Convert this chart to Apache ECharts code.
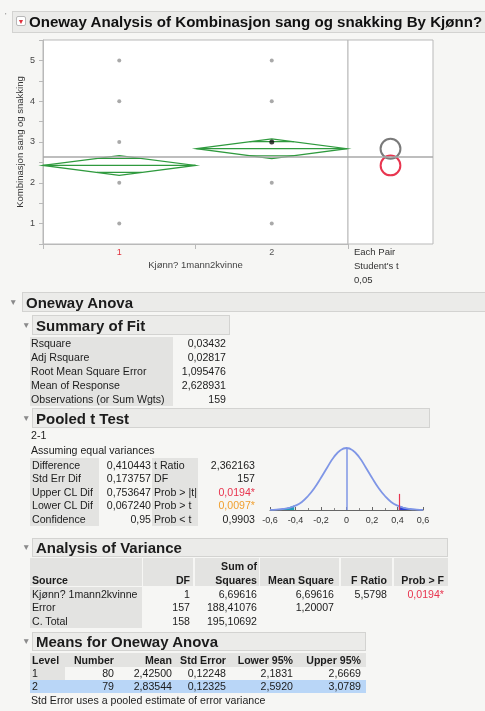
<!DOCTYPE html>
<html><head><meta charset="utf-8">
<script src="https://cdn.jsdelivr.net/npm/echarts@6/dist/echarts.min.js"></script>
<style>
html,body{margin:0;padding:0;background:#f6f6f4;}
#page{position:relative;width:485px;height:711px;overflow:hidden;font-family:'Liberation Sans',Arial,sans-serif;color:#1c1c1c;}
#chart{position:absolute;left:0;top:0;width:485px;height:711px;}
.t{position:absolute;white-space:nowrap;}
.bx{position:absolute;box-sizing:border-box;}
</style></head><body><div id="page"><div id="chart"></div></div>
<script>
// ---------- data ----------
const categories = ['1', '2'];
const grayPoints = [[1, 2, 3, 4, 5], [1, 2, 4, 5]];
const selectedPoints = [[], [3]];
const groupMeans = [2.42500, 2.83544];
const lower95 = [2.1831, 2.5920];
const upper95 = [2.6669, 3.0789];
const groupN = [80, 79];
const grandMean = 2.628931;

const curveX = [-0.6, -0.55, -0.5, -0.45, -0.4, -0.35, -0.3, -0.25, -0.2, -0.15, -0.1, -0.05, 0, 0.05, 0.1, 0.15, 0.2, 0.25, 0.3, 0.35, 0.4, 0.45, 0.5, 0.55, 0.6];
const curveY = [0.003, 0.007, 0.016, 0.035, 0.07, 0.13, 0.23, 0.36, 0.52, 0.69, 0.85, 0.96, 1.0, 0.96, 0.85, 0.69, 0.52, 0.36, 0.23, 0.13, 0.07, 0.035, 0.016, 0.007, 0.003];
const leftTailX = [-0.6, -0.55, -0.5, -0.45, -0.41];
const leftTailY = [0.005, 0.01, 0.022, 0.045, 0.075];
const rightTailX = [0.41, 0.45, 0.5, 0.55, 0.6];
const rightTailY = [0.075, 0.045, 0.022, 0.01, 0.005];
const difference = 0.410443;
const diffMarkHeight = 0.26;

const summaryLabels = ['Rsquare', 'Adj Rsquare', 'Root Mean Square Error', 'Mean of Response', 'Observations (or Sum Wgts)'];
const summaryValues = ['0,03432', '0,02817', '1,095476', '2,628931', '159'];

const tLabels1 = ['Difference', 'Std Err Dif', 'Upper CL Dif', 'Lower CL Dif', 'Confidence'];
const tValues1 = ['0,410443', '0,173757', '0,753647', '0,067240', '0,95'];
const tLabels2 = ['t Ratio', 'DF', 'Prob > |t|', 'Prob > t', 'Prob < t'];
const tValues2 = ['2,362163', '157', '0,0194*', '0,0097*', '0,9903'];

const anovaSource = ['Kjønn? 1mann2kvinne', 'Error', 'C. Total'];
const anovaDF = ['1', '157', '158'];
const anovaSS = ['6,69616', '188,41076', '195,10692'];
const anovaMS = ['6,69616', '1,20007', ''];
const anovaF = ['5,5798', '', ''];
const anovaP = ['0,0194*', '', ''];

const meansLevel = ['1', '2'];
const meansNumber = ['80', '79'];
const meansMean = ['2,42500', '2,83544'];
const meansSE = ['0,12248', '0,12325'];
const meansLower = ['2,1831', '2,5920'];
const meansUpper = ['2,6669', '3,0789'];

// ---------- HTML text / tables ----------
const page = document.getElementById('page');
const FS = 10.6;
function box(x, y, w, h, bg, border) {
  const d = document.createElement('div'); d.className = 'bx';
  d.style.left = x + 'px'; d.style.top = y + 'px'; d.style.width = w + 'px'; d.style.height = h + 'px';
  d.style.background = bg; if (border) d.style.border = '1px solid ' + border;
  page.appendChild(d); return d;
}
function txt(x, y, s, o) {
  o = o || {};
  const fs = o.fs || FS;
  const d = document.createElement('div'); d.className = 't'; d.textContent = s;
  d.style.fontSize = fs + 'px'; d.style.lineHeight = (fs + 2) + 'px';
  d.style.top = (y - (fs + 2) / 2) + 'px';
  if (o.align === 'right') d.style.right = (485 - x) + 'px';
  else d.style.left = x + 'px';
  if (o.bold) d.style.fontWeight = 'bold';
  if (o.color) d.style.color = o.color;
  page.appendChild(d); return d;
}
function tri(x, y) { txt(x, y, '▼', {fs: 8.5, color: '#8a8a8a'}); }
function bar(x, y, w, h) { box(x, y, w, h, '#ebebe9', '#d3d3d1'); }

// title
bar(12, 11, 480, 22);
const ic = box(16, 16, 10, 10, '#fff', '#b8b8b8'); ic.style.borderRadius = '2px';
txt(17.5, 21.5, '▼', {fs: 7, color: '#e0303c'});
txt(29, 22, 'Oneway Analysis of Kombinasjon sang og snakking By Kjønn?', {fs: 15.1, bold: true, color: '#111'});
txt(5, 16, "'", {fs: 8, color: '#777'});

// right panel axis label
txt(354, 252, 'Each Pair', {fs: 9.5, color: '#333'});
txt(354, 266, "Student's t", {fs: 9.5, color: '#333'});
txt(354, 280, '0,05', {fs: 9.5, color: '#333'});

// Oneway Anova
tri(9, 302); bar(22, 292, 470, 20);
txt(26, 302, 'Oneway Anova', {fs: 15, bold: true});

// Summary of Fit
tri(22, 325); bar(32, 315, 198, 20);
txt(36, 325, 'Summary of Fit', {fs: 15, bold: true});
box(30, 337, 143, 69, '#e3e3e1');
summaryLabels.forEach((s, i) => {
  const y = 343 + i * 14;
  txt(31, y, s);
  txt(226, y, summaryValues[i], {align: 'right'});
});

// Pooled t Test
tri(22, 418); bar(32, 408, 398, 20);
txt(36, 418, 'Pooled t Test', {fs: 15, bold: true});
txt(31, 435, '2-1');
txt(31, 450, 'Assuming equal variances');
box(30, 458, 69, 68, '#e3e3e1');
box(152, 458, 46, 68, '#e3e3e1');
const tColors = ['', '', '#e8354f', '#f0a030', ''];
tLabels1.forEach((s, i) => {
  const y = 465 + i * 13.5;
  txt(32, y, s);
  txt(151, y, tValues1[i], {align: 'right'});
  txt(154, y, tLabels2[i]);
  txt(255, y, tValues2[i], {align: 'right', color: tColors[i] || undefined});
});

// Analysis of Variance
tri(22, 547); bar(32, 538, 416, 19);
txt(36, 547, 'Analysis of Variance', {fs: 15, bold: true});
[[30, 112], [143, 50], [195, 64], [260, 79], [341, 51], [394, 54]].forEach(c => box(c[0], 558, c[1], 28, '#e3e3e1'));
box(30, 587, 112, 41, '#e3e3e1');
txt(32, 580, 'Source', {bold: true});
txt(190, 580, 'DF', {bold: true, align: 'right'});
txt(257, 566, 'Sum of', {bold: true, align: 'right'});
txt(257, 580, 'Squares', {bold: true, align: 'right'});
txt(334, 580, 'Mean Square', {bold: true, align: 'right'});
txt(387, 580, 'F Ratio', {bold: true, align: 'right'});
txt(444, 580, 'Prob > F', {bold: true, align: 'right'});
anovaSource.forEach((s, i) => {
  const y = 594 + i * 13.5;
  txt(32, y, s);
  txt(190, y, anovaDF[i], {align: 'right'});
  txt(257, y, anovaSS[i], {align: 'right'});
  txt(334, y, anovaMS[i], {align: 'right'});
  txt(387, y, anovaF[i], {align: 'right'});
  txt(444, y, anovaP[i], {align: 'right', color: '#e8354f'});
});

// Means for Oneway Anova
tri(22, 641); bar(32, 632, 334, 19);
txt(36, 641, 'Means for Oneway Anova', {fs: 15, bold: true});
box(30, 653, 336, 14, '#e3e3e1');
box(30, 667, 35, 13, '#e3e3e1');
box(30, 680, 336, 13, '#b9d6f7');
txt(32, 660, 'Level', {bold: true});
const mRight = [114, 172, 226, 293, 361];
const mHead = ['Number', 'Mean', 'Std Error', 'Lower 95%', 'Upper 95%'];
mHead.forEach((h, j) => txt(mRight[j], 660, h, {bold: true, align: 'right'}));
meansLevel.forEach((lv, i) => {
  const y = 673.5 + i * 13;
  txt(32, y, lv);
  [meansNumber, meansMean, meansSE, meansLower, meansUpper].forEach((arr, j) => txt(mRight[j], y, arr[i], {align: 'right'}));
});
txt(31, 700, 'Std Error uses a pooled estimate of error variance');

// ---------- chart ----------
const chart = echarts.init(document.getElementById('chart'), null, {renderer: 'canvas'});
const maxN = Math.max.apply(null, groupN);
const grayData = [], selData = [];
grayPoints.forEach((arr, i) => arr.forEach(v => grayData.push([i, v])));
selectedPoints.forEach((arr, i) => arr.forEach(v => selData.push([i, v])));
const diamondData = groupMeans.map((m, i) => [i, m, lower95[i], upper95[i], groupN[i]]);
const circleData = groupMeans.map((m, i) => [0.5, m, (upper95[i] - lower95[i]) / 2, i]);
const curveData = curveX.map((x, i) => [x, curveY[i]]);
const leftData = leftTailX.map((x, i) => [x, leftTailY[i]]);
const rightData = rightTailX.map((x, i) => [x, rightTailY[i]]);
const meanLine = {silent: true, symbol: 'none', label: {show: false}, lineStyle: {color: '#a9a9a9', width: 1.5, type: 'solid'}, data: [{yAxis: grandMean}]};

const option = {
  backgroundColor: 'transparent',
  animation: false,
  grid: [
    {left: 43, top: 40, width: 305, height: 204, show: true, backgroundColor: '#fff', borderColor: '#b9b9b9', borderWidth: 1},
    {left: 348, top: 40, width: 85, height: 204, show: true, backgroundColor: '#fff', borderColor: '#b9b9b9', borderWidth: 1},
    {left: 270, top: 448, width: 153, height: 62}
  ],
  xAxis: [
    {type: 'category', gridIndex: 0, data: categories, boundaryGap: true,
     axisLine: {lineStyle: {color: '#b9b9b9'}}, axisTick: {show: true, length: 5, lineStyle: {color: '#b9b9b9'}},
     axisLabel: {fontSize: 9, margin: 4, fontFamily: 'Liberation Sans',
       formatter: v => v === '1' ? '{r|' + v + '}' : '{k|' + v + '}',
       rich: {r: {color: '#e0303c', fontSize: 9}, k: {color: '#555', fontSize: 9}}},
     name: 'Kjønn? 1mann2kvinne', nameLocation: 'middle', nameGap: 16, nameMoveOverlap: false,
     nameTextStyle: {fontSize: 9.5, color: '#444', fontFamily: 'Liberation Sans'}},
    {type: 'value', gridIndex: 1, min: 0, max: 1, show: false},
    {type: 'value', gridIndex: 2, min: -0.6, max: 0.6, interval: 0.2,
     axisLine: {lineStyle: {color: '#666', width: 1}},
     axisTick: {show: true, inside: true, length: 3, lineStyle: {color: '#666'}},
     minorTick: {show: true, splitNumber: 2, length: 2, lineStyle: {color: '#888'}},
     splitLine: {show: false},
     axisLabel: {fontSize: 9, color: '#333', margin: 6, fontFamily: 'Liberation Sans',
       formatter: v => String(Math.round(v * 10) / 10).replace('.', ',')}}
  ],
  yAxis: [
    {type: 'value', gridIndex: 0, min: 0.5, max: 5.5, interval: 0.5,
     axisLine: {show: true, lineStyle: {color: '#b9b9b9'}},
     axisTick: {show: true, length: 4, lineStyle: {color: '#b9b9b9'}},
     splitLine: {show: false},
     axisLabel: {fontSize: 9, color: '#444', margin: 8, fontFamily: 'Liberation Sans',
       formatter: v => Number.isInteger(v) ? String(v) : ''},
     name: 'Kombinasjon sang og snakking', nameLocation: 'middle', nameGap: 18, nameRotate: 90, nameMoveOverlap: false,
     nameTextStyle: {fontSize: 9.5, color: '#333', fontFamily: 'Liberation Sans'}},
    {type: 'value', gridIndex: 1, min: 0.5, max: 5.5, show: false},
    {type: 'value', gridIndex: 2, min: 0, max: 1, show: false}
  ],
  series: [
    {type: 'scatter', xAxisIndex: 0, yAxisIndex: 0, data: grayData, symbolSize: 4, itemStyle: {color: '#949494'}, markLine: meanLine, z: 3},
    {type: 'scatter', xAxisIndex: 0, yAxisIndex: 0, data: selData, symbolSize: 5, itemStyle: {color: '#111'}, z: 5},
    {type: 'custom', xAxisIndex: 0, yAxisIndex: 0, data: diamondData, z: 4,
     renderItem: (params, api) => {
       const idx = api.value(0), mean = api.value(1), lo = api.value(2), hi = api.value(3), n = api.value(4);
       const c = api.coord([idx, mean]);
       const band = api.size([1, 0])[0];
       const hw = band / 2 * n / maxN;
       const yHi = api.coord([idx, hi])[1], yLo = api.coord([idx, lo])[1];
       const m = (hi - lo) / 2 * Math.SQRT1_2;
       const yOU = api.coord([idx, mean + m])[1], yOL = api.coord([idx, mean - m])[1];
       const ow = hw * (1 - Math.SQRT1_2);
       const st = {stroke: '#2f9a3e', fill: null, lineWidth: 1.2};
       return {type: 'group', children: [
         {type: 'polygon', shape: {points: [[c[0] - hw, c[1]], [c[0], yHi], [c[0] + hw, c[1]], [c[0], yLo]]}, style: st},
         {type: 'line', shape: {x1: c[0] - hw, y1: c[1], x2: c[0] + hw, y2: c[1]}, style: st},
         {type: 'line', shape: {x1: c[0] - ow, y1: yOU, x2: c[0] + ow, y2: yOU}, style: st},
         {type: 'line', shape: {x1: c[0] - ow, y1: yOL, x2: c[0] + ow, y2: yOL}, style: st}
       ]};
     }},
    {type: 'custom', xAxisIndex: 1, yAxisIndex: 1, data: circleData, markLine: meanLine, z: 4,
     renderItem: (params, api) => {
       const c = api.coord([api.value(0), api.value(1)]);
       const r = api.size([0, api.value(2)])[1];
       const col = api.value(3) === 0 ? '#e8354f' : '#7a7a7a';
       return {type: 'circle', shape: {cx: c[0], cy: c[1], r: r}, style: {stroke: col, fill: null, lineWidth: 2}};
     }},
    {type: 'line', xAxisIndex: 2, yAxisIndex: 2, data: leftData, smooth: true, symbol: 'none',
     lineStyle: {width: 0}, areaStyle: {color: '#1e9fba', opacity: 1}, z: 2},
    {type: 'line', xAxisIndex: 2, yAxisIndex: 2, data: rightData, smooth: true, symbol: 'none',
     lineStyle: {width: 0}, areaStyle: {color: '#2c3fd6', opacity: 1}, z: 2},
    {type: 'line', xAxisIndex: 2, yAxisIndex: 2, data: curveData, smooth: true, symbol: 'none',
     lineStyle: {color: '#7f96e6', width: 1.8}, z: 3,
     markLine: {silent: true, symbol: 'none', label: {show: false}, lineStyle: {type: 'solid'},
       data: [
         [{coord: [0, 0], lineStyle: {color: '#7f96e6', width: 1.5, type: 'solid'}}, {coord: [0, 1]}],
         [{coord: [difference, 0], lineStyle: {color: '#e8354f', width: 1.2, type: 'solid'}}, {coord: [difference, diffMarkHeight]}]
       ]}}
  ]
};
chart.setOption(option);
</script></body></html>
